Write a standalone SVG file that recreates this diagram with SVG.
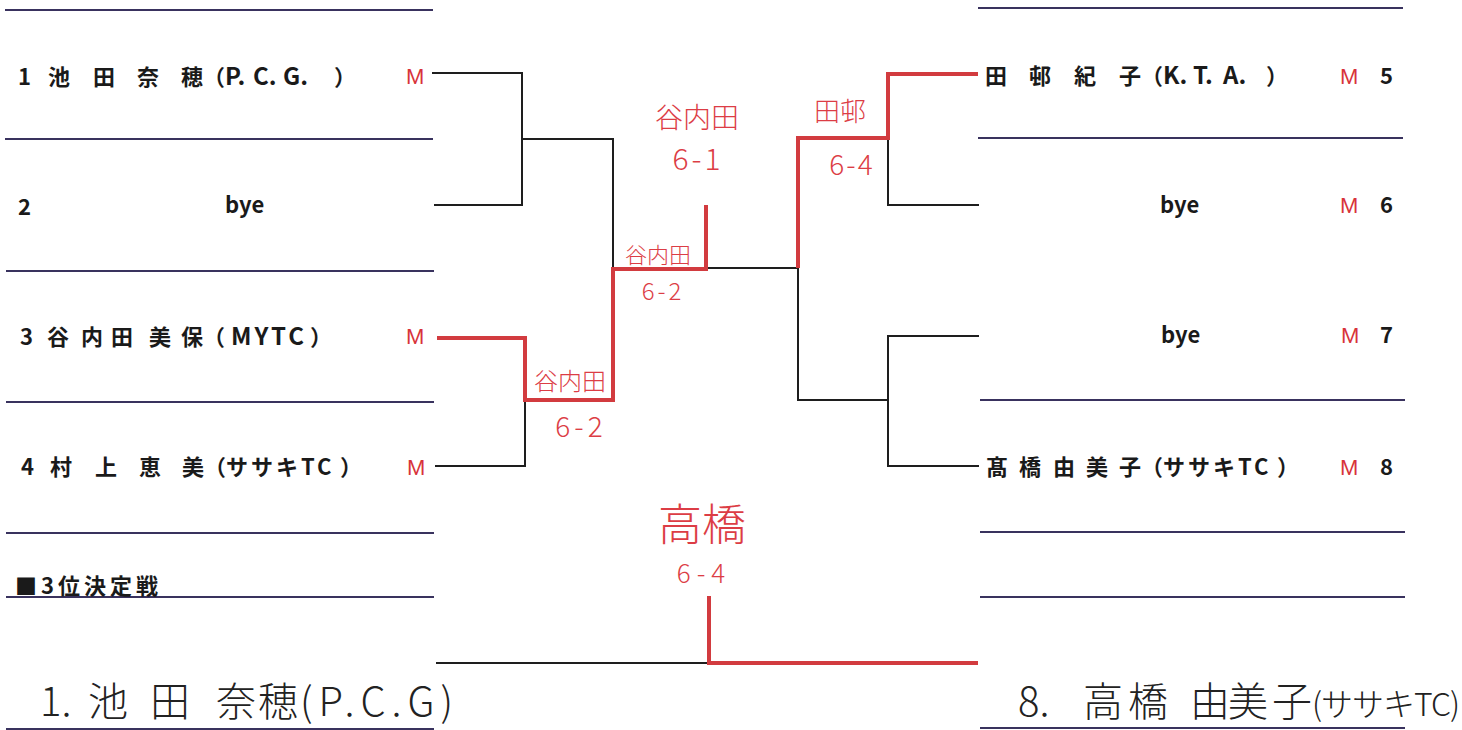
<svg xmlns="http://www.w3.org/2000/svg" width="1462" height="730" viewBox="0 0 1462 730">
<style>
.rule{stroke:#39325e;stroke-width:2;fill:none}
.bk{stroke:#1e1e1e;stroke-width:2;fill:none;stroke-linecap:square}
.rd{stroke:#d23b3f;stroke-width:4;fill:none;stroke-linejoin:miter}
.pt{font-family:"Noto Sans CJK JP","Liberation Sans",sans-serif;font-size:22px;font-weight:bold;fill:#1a1a1a}
.lt{font-size:24px}
.m{font-family:"Liberation Sans","Noto Sans CJK JP",sans-serif;font-size:22px;fill:#d8333a}
.hw{font-family:"Noto Sans CJK JP",sans-serif;font-weight:300;fill:#222}
.rh{font-family:"Noto Sans CJK JP",sans-serif;font-weight:300;fill:#dc3d45;text-anchor:middle}
</style>
<rect width="1462" height="730" fill="#ffffff"/>
<g id="rules">
<line class="rule" x1="5" y1="10" x2="433" y2="10"/>
<line class="rule" x1="5" y1="139" x2="433" y2="139"/>
<line class="rule" x1="6" y1="271" x2="434" y2="271"/>
<line class="rule" x1="6" y1="402" x2="434" y2="402"/>
<line class="rule" x1="6" y1="533" x2="434" y2="533"/>
<line class="rule" x1="6" y1="597" x2="434" y2="597"/>
<line class="rule" x1="6" y1="729" x2="434" y2="729"/>
<line class="rule" x1="978" y1="8" x2="1403" y2="8"/>
<line class="rule" x1="978" y1="138" x2="1403" y2="138"/>
<line class="rule" x1="980" y1="400" x2="1405" y2="400"/>
<line class="rule" x1="980" y1="532" x2="1405" y2="532"/>
<line class="rule" x1="980" y1="597" x2="1405" y2="597"/>
<line class="rule" x1="980" y1="728" x2="1405" y2="728"/>
</g>
<g id="connectors">
<polyline class="bk" points="433,73 522,73 522,205 435,205"/>
<polyline class="bk" points="522,139 613,139 613,268 798,268"/>
<polyline class="bk" points="525,400 525,466 436,466"/>
<polyline class="bk" points="978,205 888,205 888,138"/>
<polyline class="bk" points="798,268 798,400 888,400"/>
<polyline class="bk" points="978,336 888,336 888,466 978,466"/>
<polyline class="bk" points="437,663 709,663"/>
<polyline class="rd" points="437,338 525,338 525,400 613,400 613,269 706,269 706,205"/>
<polyline class="rd" points="798,268 798,138 888,138 888,74 978,74"/>
<polyline class="rd" points="709,596 709,663 978,663"/>
</g>
<g id="p1">
<text class="pt" y="85"><tspan x="18">1 </tspan><tspan x="48">池 </tspan><tspan x="93">田 </tspan><tspan x="137">奈 </tspan><tspan x="181">穂</tspan><tspan x="203">（</tspan><tspan class="lt" x="225">P. </tspan><tspan class="lt" x="253">C. </tspan><tspan class="lt" x="283">G.</tspan><tspan x="334">）</tspan></text>
<text class="m" x="406" y="84">M</text>
</g>
<g id="p2">
<text class="pt" x="18" y="215">2</text>
<text class="pt" x="225" y="213">bye</text>
</g>
<g id="p3">
<text class="pt" y="345"><tspan x="20">3 </tspan><tspan x="47">谷 </tspan><tspan x="81">内 </tspan><tspan x="111">田 </tspan><tspan x="149">美 </tspan><tspan x="181">保</tspan><tspan x="203">（</tspan><tspan class="lt" x="231" letter-spacing="3">MYTC</tspan><tspan x="310">）</tspan></text>
<text class="m" x="406" y="344">M</text>
</g>
<g id="p4">
<text class="pt" y="475"><tspan x="21">4 </tspan><tspan x="50">村 </tspan><tspan x="95">上 </tspan><tspan x="139">恵 </tspan><tspan x="182">美</tspan><tspan x="204">（</tspan><tspan x="226" letter-spacing="3">ササキTC</tspan><tspan x="340">）</tspan></text>
<text class="m" x="407" y="475">M</text>
</g>
<g id="p5">
<text class="pt" y="84"><tspan x="985">田 </tspan><tspan x="1029">邨 </tspan><tspan x="1074">紀 </tspan><tspan x="1119">子</tspan><tspan x="1141">（</tspan><tspan class="lt" x="1163">K. </tspan><tspan class="lt" x="1193">T. </tspan><tspan class="lt" x="1223">A.</tspan><tspan x="1266">）</tspan></text>
<text class="m" x="1340" y="84">M</text>
<text class="pt" x="1380" y="84">5</text>
</g>
<g id="p6">
<text class="pt" x="1160" y="213">bye</text>
<text class="m" x="1340" y="213">M</text>
<text class="pt" x="1380" y="213">6</text>
</g>
<g id="p7">
<text class="pt" x="1161" y="343">bye</text>
<text class="m" x="1341" y="343">M</text>
<text class="pt" x="1380" y="343">7</text>
</g>
<g id="p8">
<text class="pt" y="475"><tspan x="986">髙 </tspan><tspan x="1019">橋 </tspan><tspan x="1053">由 </tspan><tspan x="1086">美 </tspan><tspan x="1119">子</tspan><tspan x="1141">（</tspan><tspan x="1163" letter-spacing="3">ササキTC</tspan><tspan x="1277">）</tspan></text>
<text class="m" x="1340" y="475">M</text>
<text class="pt" x="1380" y="475">8</text>
</g>
<g id="third">
<text class="pt" x="15" y="594" font-size="20" letter-spacing="4">■3位決定戦</text>
</g>
<g id="scores">
<text class="rh" x="697" y="128" font-size="28">谷内田</text>
<text class="rh" x="698" y="170" font-size="30" letter-spacing="3">6-1</text>
<text class="rh" x="840" y="121" font-size="26">田邨</text>
<text class="rh" x="852" y="175" font-size="28" letter-spacing="2">6-4</text>
<text class="rh" x="658" y="263" font-size="22">谷内田</text>
<text class="rh" x="663" y="300" font-size="24" letter-spacing="3">6-2</text>
<text class="rh" x="570" y="390" font-size="24">谷内田</text>
<text class="rh" x="581" y="437" font-size="28" letter-spacing="4">6-2</text>
<text class="rh" x="702" y="541" font-size="44">高橋</text>
<text class="rh" x="704" y="583" font-size="26" letter-spacing="6">6-4</text>
</g>
<g id="result-left">
<text class="hw" y="716" font-size="40"><tspan x="40">1. </tspan><tspan x="88">池 </tspan><tspan x="150">田 </tspan><tspan x="216">奈</tspan><tspan x="258">穂</tspan><tspan x="300" letter-spacing="6">(P.C.G)</tspan></text>
</g>
<g id="result-right">
<text class="hw" y="716" font-size="40"><tspan x="1018">8. </tspan><tspan x="1083">高</tspan><tspan x="1128">橋 </tspan><tspan x="1190">由</tspan><tspan x="1228">美</tspan><tspan x="1272">子</tspan><tspan x="1312" font-size="32" letter-spacing="-1">(ササキTC)</tspan></text>
</g>
</svg>
